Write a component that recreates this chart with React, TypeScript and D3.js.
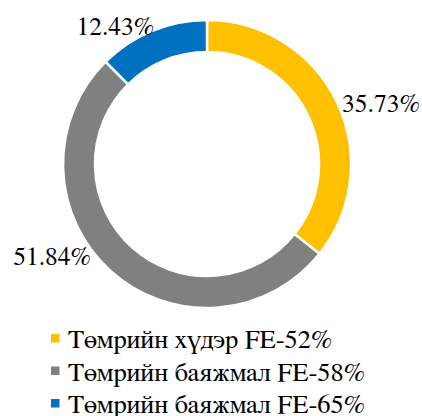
import * as d3 from 'd3';
import { useEffect, useRef } from 'react';

const categories = ['Төмрийн хүдэр FE-52%', 'Төмрийн баяжмал FE-58%', 'Төмрийн баяжмал FE-65%'];
const shares = [35.73, 51.84, 12.43];
const colors = ['#FFC000', '#808080', '#0070C0'];

// best-fit label placement tweak (degrees), like Excel moves the big slice's label
const labelNudge = [1.5, 9.7, 1.5];

export default function App() {
  const ref = useRef<SVGSVGElement | null>(null);

  useEffect(() => {
    if (!ref.current) return;
    const svg = d3.select(ref.current);
    svg.selectAll('*').remove();

    const width = 422;
    const height = 416;
    const cx = 207;
    const cy = 164;
    const outer = 144;
    const inner = 112;
    const font = 'FreeSerif, Liberation Serif, serif';

    svg.attr('width', width).attr('height', height);

    const pie = d3.pie<number>().sort(null).value(d => d);
    const arcs = pie(shares);
    const arc = d3.arc<d3.PieArcDatum<number>>().innerRadius(inner).outerRadius(outer);

    const g = svg.append('g').attr('transform', `translate(${cx},${cy})`);

    g.selectAll('path')
      .data(arcs)
      .join('path')
      .attr('d', arc)
      .attr('fill', (_, i) => colors[i])
      .attr('stroke', '#fff')
      .attr('stroke-width', 2.5)
      .attr('stroke-linejoin', 'miter');

    // data labels
    const labelR = 148;
    arcs.forEach((a, i) => {
      const mid = (a.startAngle + a.endAngle) / 2 + (labelNudge[i] * Math.PI) / 180;
      const x = labelR * Math.sin(mid);
      const y = -labelR * Math.cos(mid);
      g.append('text')
        .attr('x', x)
        .attr('y', y)
        .attr('dy', '0.35em')
        .attr('text-anchor', x >= 0 ? 'start' : 'end')
        .attr('font-family', font)
        .attr('font-size', 25.5)
        .attr('fill', '#000')
        .text(`${shares[i].toFixed(2)}%`);
    });

    // legend
    const legend = svg.append('g');
    const rowY = d3.scaleLinear().domain([0, 1]).range([348, 380.5]);
    categories.forEach((c, i) => {
      const y = rowY(i);
      legend.append('rect')
        .attr('x', 51)
        .attr('y', y - 14)
        .attr('width', 8.5)
        .attr('height', 8.5)
        .attr('fill', colors[i]);
      legend.append('text')
        .attr('x', 68)
        .attr('y', y)
        .attr('font-family', font)
        .attr('font-size', 26.5)
        .attr('fill', '#000')
        .text(c);
    });
  }, []);

  return (
    <svg
      ref={ref}
      style={{ position: 'absolute', left: 0, top: 0, background: '#fff' }}
      viewBox="0 0 422 416"
    />
  );
}
